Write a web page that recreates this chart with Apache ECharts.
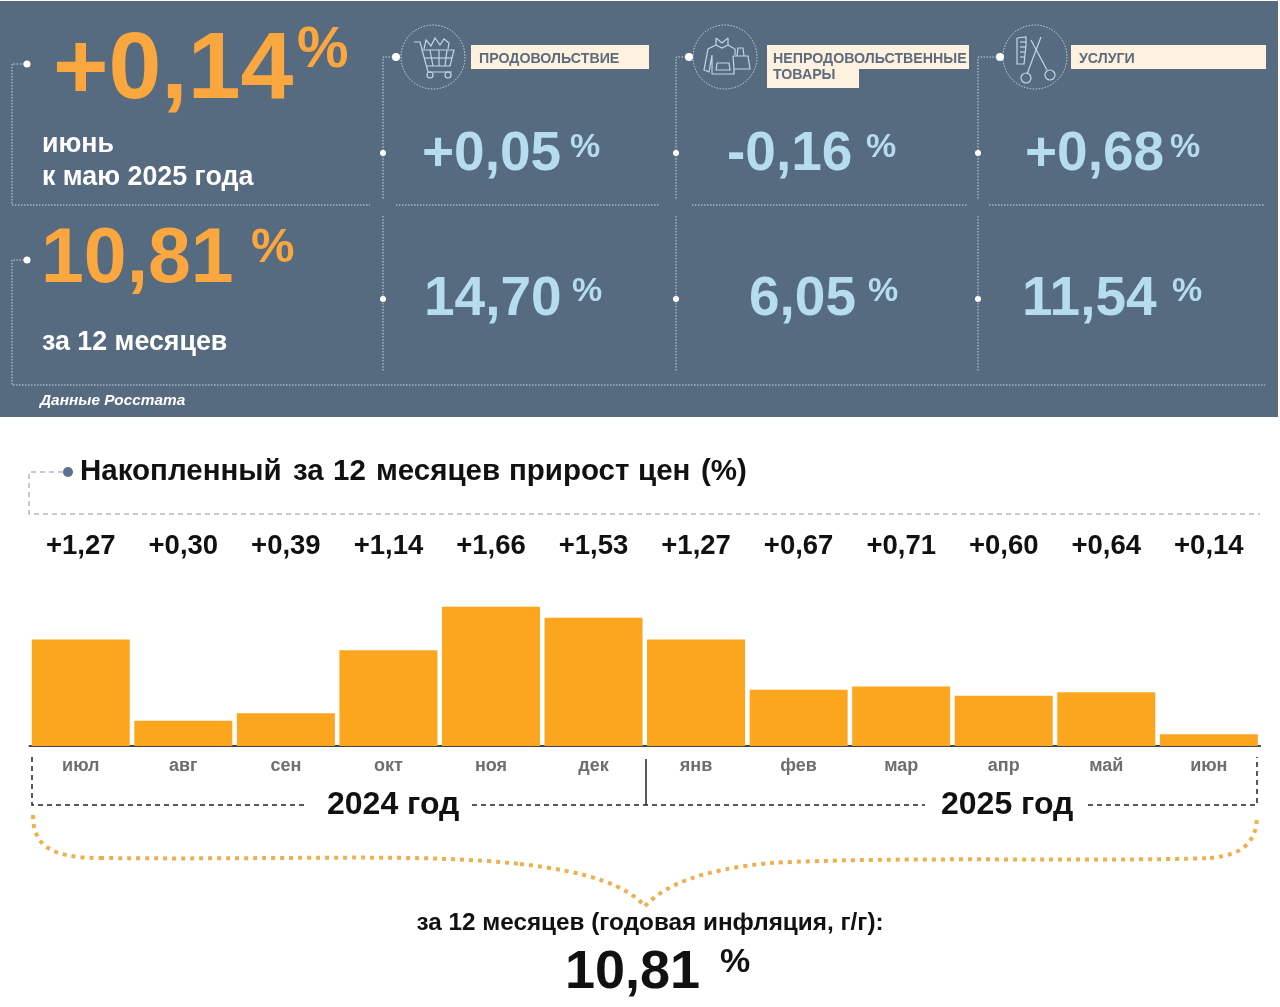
<!DOCTYPE html>
<html>
<head>
<meta charset="utf-8">
<title>Инфляция</title>
<style>
html,body{margin:0;padding:0;background:#fff;}
#chart{width:1280px;height:1007px;}
</style>
<script src="https://cdn.jsdelivr.net/npm/echarts@6/dist/echarts.min.js"></script>
</head>
<body>
<div id="chart"></div>
<script>
// данные
var months = ['июл','авг','сен','окт','ноя','дек','янв','фев','мар','апр','май','июн'];
var monthValues = [1.27,0.30,0.39,1.14,1.66,1.53,1.27,0.67,0.71,0.60,0.64,0.14];
var monthLabels = ['+1,27','+0,30','+0,39','+1,14','+1,66','+1,53','+1,27','+0,67','+0,71','+0,60','+0,64','+0,14'];
var categoryNames = ['ПРОДОВОЛЬСТВИЕ','НЕПРОДОВОЛЬСТВЕННЫЕ','УСЛУГИ'];
var monthKpi = ['+0,05','-0,16','+0,68'];
var yearKpi = ['14,70','6,05','11,54'];
var titleWords = ['Накопленный','за','12','месяцев','прирост','цен','(%)'];

var FONT = '"Liberation Sans", Arial, sans-serif';
var PANEL = '#566b80', ORANGE = '#fba73f', BLUE = '#b6dcf0', BAR = '#fba61e', DOT = '#cfd6dc', ICON = '#c4d6e4';
var g = [];

function text(x, y, str, size, color, opt){
	opt = opt || {};
	g.push({type:'text', x:x, y:y, z:10, style:{
		text:str, fill:color,
		font:(opt.italic ? 'italic ' : '') + (opt.weight || 'bold') + ' ' + size + 'px ' + FONT,
		textAlign:opt.align || 'left', textVerticalAlign:'middle'
	}});
}
function poly(points, color, width, dash){
	g.push({type:'polyline', z:5, shape:{points:points},
		style:{stroke:color, lineWidth:width, lineDash:dash || null, fill:null}});
}
function dot(x, y, r, color){
	g.push({type:'circle', z:6, shape:{cx:x, cy:y, r:r}, style:{fill:color || '#fff'}});
}
function ring(x, y, r){
	g.push({type:'circle', z:6, shape:{cx:x, cy:y, r:r}, style:{stroke:ICON, lineWidth:1.2, fill:null}});
}
function box(x, y, w, h, color){
	g.push({type:'rect', z:4, shape:{x:x, y:y, width:w, height:h}, style:{fill:color}});
}
function curve(p, color, width, dash){
	g.push({type:'bezierCurve', z:5,
		shape:{x1:p[0], y1:p[1], cpx1:p[2], cpy1:p[3], cpx2:p[4], cpy2:p[5], x2:p[6], y2:p[7]},
		style:{stroke:color, lineWidth:width, lineDash:dash || null, fill:null}});
}
function iconLines(cx, lines){
	g.push({type:'circle', z:5, shape:{cx:cx, cy:57, r:32}, style:{stroke:DOT, lineWidth:1, lineDash:[1.5,1.5], fill:null}});
	lines.forEach(function(l){
		poly(l.map(function(p){ return [cx + p[0], 57 + p[1]]; }), ICON, 1.2);
	});
}

/**
 * верхняя панель
 */
function buildPanel(){
	var thin = [1.5,1.5];
	box(0, 1, 1278, 416, PANEL);

	poly([[27,64],[12,64],[12,205],[370,205]], DOT, 1, thin);
	poly([[27,260],[12,260],[12,385],[1265,385]], DOT, 1, thin);
	dot(27, 64, 3.5);
	dot(27, 260, 3.5);

	var cols = [
		{x:383, dx:396, lineFrom:396, lineTo:660},
		{x:676, dx:689, lineFrom:692, lineTo:968},
		{x:978, dx:1000, lineFrom:989, lineTo:1265}
	];
	cols.forEach(function(c){
		poly([[c.dx,57],[c.x,57],[c.x,200]], DOT, 1, thin);
		poly([[c.x,216],[c.x,372]], DOT, 1, thin);
		poly([[c.lineFrom,205],[c.lineTo,205]], DOT, 1, thin);
		dot(c.dx, 57, 4);
		dot(c.x, 153, 3);
		dot(c.x, 299, 3);
	});

	// корзина
	iconLines(433, [
		[[-19,-15],[-13,-15],[-5,15],[19,15]],
		[[-11,-7],[21,-7],[17,9],[-6,9]],
		[[-3,-7],[0,9]], [[6,-7],[6,9]], [[14,-7],[12,9]],
		[[-9,1],[19,1]],
		[[-9,-8],[-7,-17],[-2,-11],[2,-19],[7,-12],[11,-18],[16,-14],[15,-8]]
	]);
	ring(430, 75, 3);
	ring(448, 75, 3);

	// худи и сумка
	iconLines(725, [
		[[-9,-19],[-3,-14],[3,-19]],
		[[-9,-19],[-9,-12],[-17,-8],[-21,13],[-16,15],[-13,-2],[-13,17],[9,17],[9,12]],
		[[-9,-12],[-3,-9],[3,-12],[3,-19]],
		[[3,-12],[10,-8],[10,-2]],
		[[-8,6],[4,6],[5,13],[-9,13],[-8,6]],
		[[8,-1],[23,-1],[25,12],[9,12],[8,-1]],
		[[12,-1],[13,-9],[18,-9],[19,-1]]
	]);

	// расческа и ножницы
	iconLines(1035, [
		[[-18,-19],[-9,-20],[-9,-12],[-11,7],[-18,7],[-18,-19]],
		[[-15,-15],[-9,-15]], [[-15,-10],[-9,-10]], [[-15,-5],[-10,-5]], [[-15,0],[-10,0]],
		[[6,-20],[-8,17]],
		[[-4,-17],[12,13]]
	]);
	ring(1026, 78, 5);
	ring(1050, 75, 5);

	// подписи категорий
	box(471, 45, 178, 24, '#fff1df');
	box(767, 45, 202, 24, '#fff1df');
	box(767, 69, 92, 19, '#fff1df');
	box(1071, 45, 195, 24, '#fff1df');
	text(479, 59, categoryNames[0], 14.2, '#5d6c7c');
	text(773, 59, categoryNames[1], 14.2, '#5d6c7c');
	text(773, 75, 'ТОВАРЫ', 14.2, '#5d6c7c');
	text(1079, 59, categoryNames[2], 14.2, '#5d6c7c');

	// главные показатели
	text(53, 72, '+0,14', 95, ORANGE);
	text(297, 51, '%', 58, ORANGE);
	text(42, 145, 'июнь', 26.8, '#fff');
	text(42, 178, 'к маю 2025 года', 26.8, '#fff');
	text(41, 261, '10,81', 77, ORANGE);
	text(251, 248, '%', 49, ORANGE);
	text(42, 343, 'за 12 месяцев', 26.8, '#fff');
	text(40, 401, 'Данные Росстата', 15.4, '#fff', {italic:true});

	var mx = [422,727,1025], mp = [570,866,1170];
	var yx = [424,749,1022], yp = [572,868,1172];
	for(var i=0; i<3; i++){
		text(mx[i], 155, monthKpi[i], 55, BLUE);
		text(mp[i], 148, '%', 34, BLUE);
		text(yx[i], 300, yearKpi[i], 55, BLUE);
		text(yp[i], 292, '%', 34, BLUE);
	}
}

/**
 * оформление вокруг столбцов
 */
function buildFrame(){
	var dash = [5,4], gray = '#8a95a0', br = '#eeb04f', brDash = [4,5];
	poly([[63,472],[29,472],[29,514],[1260,514]], gray, 1, dash);
	dot(68, 472, 5, '#5a7391');
	var wordX = [80,293,333,376,509,638,701];
	titleWords.forEach(function(w, i){
		text(wordX[i], 472, w, 29.5, '#111');
	});

	poly([[32,757],[32,805],[308,805]], '#222', 1.5, dash);
	poly([[472,805],[925,805]], '#222', 1.5, dash);
	poly([[1088,805],[1257,805],[1257,757]], '#222', 1.5, dash);
	poly([[646,759],[646,805]], '#222', 1.5);
	text(327, 805, '2024 год', 32, '#111');
	text(941, 805, '2025 год', 32, '#111');

	// фигурная скобка
	curve([33,815,33,845,50,858,100,858], br, 4, brDash);
	curve([100,858,300,860,420,853,520,864], br, 4, brDash);
	curve([520,864,590,872,625,885,645,906], br, 4, brDash);
	curve([645,906,665,885,700,870,770,863], br, 4, brDash);
	curve([770,863,900,856,1100,862,1210,858], br, 4, brDash);
	curve([1210,858,1245,855,1257,840,1257,815], br, 4, brDash);

	text(650, 923, 'за 12 месяцев (годовая инфляция, г/г):', 24.3, '#111', {align:'center'});
	text(565, 973, '10,81', 54, '#111');
	text(720, 963, '%', 34, '#111');
}

buildPanel();
buildFrame();

var chart = echarts.init(document.getElementById('chart'));
chart.setOption({
	animation:false,
	backgroundColor:'#fff',
	textStyle:{fontFamily:FONT},
	grid:{left:29.5, top:595, width:1230.6, height:151},
	xAxis:[{
		type:'category', data:months, position:'bottom',
		axisLine:{lineStyle:{color:'#444', width:2}},
		axisTick:{show:false},
		axisLabel:{color:'#6e6e6e', fontWeight:'bold', fontSize:18, margin:11, fontFamily:FONT}
	},{
		type:'category', data:monthLabels, position:'top',
		axisLine:{show:false}, axisTick:{show:false},
		axisLabel:{color:'#111', fontWeight:'bold', fontSize:27.5, margin:35, fontFamily:FONT}
	}],
	yAxis:{type:'value', min:0, max:1.8, show:false},
	series:[{
		type:'bar', data:monthValues, barWidth:98,
		itemStyle:{color:BAR}
	}],
	graphic:{elements:g}
});
</script>
</body>
</html>
